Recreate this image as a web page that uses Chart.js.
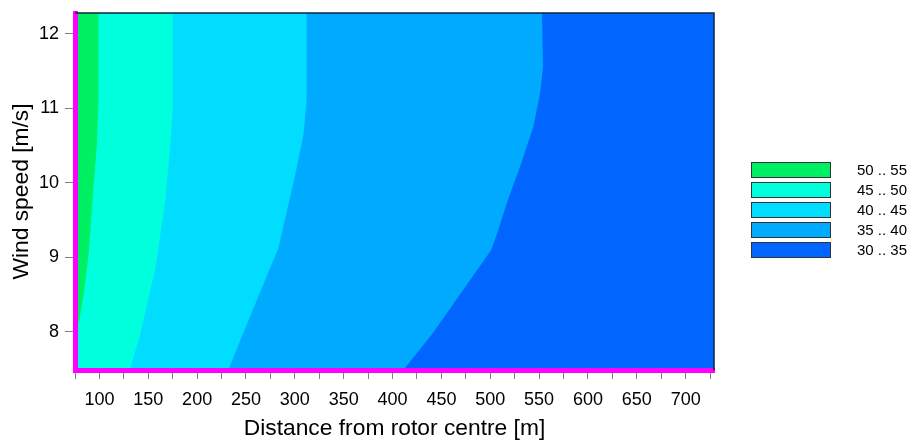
<!DOCTYPE html>
<html>
<head>
<meta charset="utf-8">
<script src="https://cdn.jsdelivr.net/npm/chart.js@4.4.1/dist/chart.umd.min.js"></script>
<style>
  html, body { margin: 0; padding: 0; background: #ffffff; }
  #wrap { width: 917px; height: 440px; position: relative; }
</style>
</head>
<body>
<div id="wrap"><canvas id="c" width="917" height="440"></canvas></div>
<script>
// ---- Data ----
const legendLabels = ['50 .. 55', '45 .. 50', '40 .. 45', '35 .. 40', '30 .. 35'];
const levelColors  = ['#00F064', '#00FFDD', '#00DDFF', '#00AAFF', '#0066FF'];

// Contour boundaries: distance from rotor centre [m] at wind speed [m/s]
const speedB50 = [12.28, 11.1, 10.53, 9.77, 9.05, 8.56, 8.16, 8.0];
const distB50  = [99, 99, 97.5, 93, 89, 84.5, 79.5, 75];
const speedB45 = [12.28, 10.98, 10.58, 9.77, 8.87, 7.98, 7.49];
const distB45  = [175, 175, 173, 167.5, 157.5, 142, 131];
const speedB40 = [12.28, 11.1, 10.66, 10.08, 9.12, 8.33, 7.98, 7.49];
const distB40  = [312, 312, 309, 300, 283, 258, 247, 232];
const speedB35 = [12.28, 11.55, 11.2, 10.75, 10.2, 9.77, 9.32, 9.1, 8.43, 7.98, 7.49];
const distB35  = [553, 554, 551, 544, 530, 518, 507, 501, 465, 441, 411];

const xMin = 75, xMax = 729, yMin = 7.49, yMax = 12.28;
const xTickStep = 25, xLabelStep = 50, yTickStep = 1;

// ---- Build region polygons ----
function regionLeftOf(dist, speed) {
  const pts = dist.map((d, i) => ({ x: d, y: speed[i] }));
  pts.push({ x: xMin, y: yMin });
  pts.push({ x: xMin, y: yMax });
  return pts;
}
const fullRect = [
  { x: xMin, y: yMax }, { x: xMax, y: yMax }, { x: xMax, y: yMin }, { x: xMin, y: yMin }
];
const regions = [
  regionLeftOf(distB50, speedB50),
  regionLeftOf(distB45, speedB45),
  regionLeftOf(distB40, speedB40),
  regionLeftOf(distB35, speedB35),
  fullRect
];

const datasets = regions.map((pts, i) => ({
  label: legendLabels[i],
  data: pts,
  showLine: true,
  fill: 'shape',
  backgroundColor: levelColors[i],
  borderColor: levelColors[i],
  borderWidth: 0,
  pointRadius: 0,
  pointHoverRadius: 0,
  order: i
}));

const FONT = 'Arial, "Liberation Sans", sans-serif';

const framePlugin = {
  id: 'frame',
  afterDraw(chart) {
    const { ctx, chartArea: a } = chart;
    ctx.save();
    ctx.strokeStyle = '#14233f';
    ctx.lineWidth = 1.5;
    ctx.beginPath();
    ctx.moveTo(a.left, a.top);
    ctx.lineTo(a.right, a.top);
    ctx.lineTo(a.right, a.bottom);
    ctx.stroke();
    ctx.restore();
  }
};

const legendPlugin = {
  id: 'contourLegend',
  afterDraw(chart) {
    const { ctx, chartArea: a } = chart;
    const boxX = a.right + 37, boxW = 80, boxH = 16, rowH = 20, top0 = 162;
    ctx.save();
    ctx.font = '15px ' + FONT;
    ctx.textBaseline = 'middle';
    ctx.textAlign = 'left';
    legendLabels.forEach((lab, i) => {
      const y = top0 + i * rowH;
      ctx.fillStyle = levelColors[i];
      ctx.fillRect(boxX, y, boxW, boxH);
      ctx.strokeStyle = '#333333';
      ctx.lineWidth = 1;
      ctx.strokeRect(boxX + 0.5, y + 0.5, boxW - 1, boxH - 1);
      ctx.fillStyle = '#000000';
      ctx.fillText(lab, boxX + boxW + 26, y + boxH / 2 + 1);
    });
    ctx.restore();
  }
};

new Chart(document.getElementById('c'), {
  type: 'scatter',
  data: { datasets },
  options: {
    responsive: false,
    animation: false,
    events: [],
    layout: { padding: { top: 13, right: 203, left: 0, bottom: 0 } },
    plugins: { legend: { display: false }, tooltip: { enabled: false } },
    scales: {
      x: {
        type: 'linear',
        min: xMin,
        max: xMax,
        afterFit(s) { s.height = 70; s.paddingLeft = 0; s.paddingRight = 0; },
        border: { display: true, color: '#ff00ff', width: 5, z: 2 },
        grid: { drawOnChartArea: false, drawTicks: true, tickLength: 9, tickColor: '#808080', tickWidth: 1 },
        ticks: {
          stepSize: xTickStep,
          includeBounds: false,
          autoSkip: false,
          maxRotation: 0,
          padding: 10,
          color: '#000000',
          font: { family: FONT, size: 18 },
          callback: v => (v % xLabelStep === 0 ? String(v) : '')
        },
        title: {
          display: true,
          text: 'Distance from rotor centre [m]',
          color: '#000000',
          font: { family: FONT, size: 22.8, lineHeight: 1 },
          padding: { top: 0, bottom: 0 }
        }
      },
      y: {
        type: 'linear',
        min: yMin,
        max: yMax,
        afterFit(s) { s.width = 75; s.paddingTop = 0; s.paddingBottom = 0; },
        border: { display: true, color: '#ff00ff', width: 5, z: 2 },
        grid: { drawOnChartArea: false, drawTicks: true, tickLength: 10, tickColor: '#808080', tickWidth: 1 },
        ticks: {
          stepSize: yTickStep,
          includeBounds: false,
          padding: 6,
          color: '#000000',
          font: { family: FONT, size: 18 }
        },
        title: {
          display: true,
          text: 'Wind speed [m/s]',
          color: '#000000',
          font: { family: FONT, size: 22.8, lineHeight: 1 },
          padding: { top: 10, bottom: 0 }
        }
      }
    }
  },
  plugins: [framePlugin, legendPlugin]
});
</script>
</body>
</html>
